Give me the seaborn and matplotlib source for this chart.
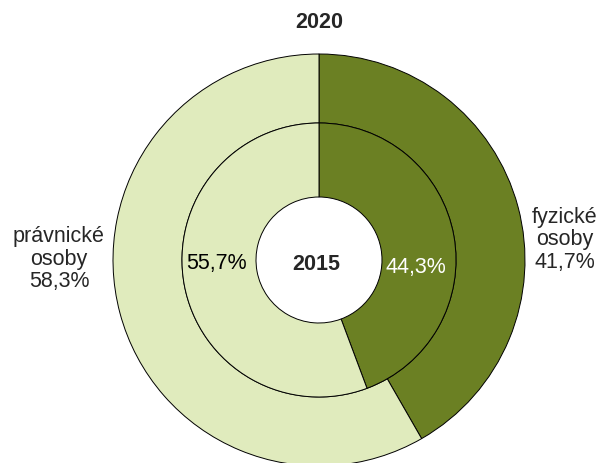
import matplotlib
matplotlib.use("Agg")
import matplotlib.pyplot as plt
import seaborn as sns

sns.set_theme(style="white")
plt.rcParams['font.family'] = ['Liberation Sans', 'DejaVu Sans']

categories = ["fyzické osoby", "právnické osoby"]
values_2020 = [41.7, 58.3]
values_2015 = [44.3, 55.7]
labels_2020 = ["41,7%", "58,3%"]
labels_2015 = ["44,3%", "55,7%"]
colors = ["#6B8023", "#E0EBBD"]

W, H = 605, 463
fig = plt.figure(figsize=(W / 100, H / 100), dpi=100)
ax = fig.add_axes([0, 0, 1, 1])
ax.set_xlim(0, W)
ax.set_ylim(0, H)
ax.set_aspect("equal")
ax.axis("off")

cx, cy = 319, H - 260
r_out, r_mid, r_in = 206, 137, 63

wp = dict(edgecolor="black", linewidth=0.7)
ax.pie(values_2020, colors=colors, startangle=90, counterclock=False,
       radius=r_out, center=(cx, cy), wedgeprops=dict(width=r_out - r_mid, **wp),
       frame=True)
ax.pie(values_2015, colors=colors, startangle=90, counterclock=False,
       radius=r_mid, center=(cx, cy), wedgeprops=dict(width=r_mid - r_in, **wp),
       frame=True)
ax.set_xlim(0, W)
ax.set_ylim(0, H)
ax.axis("off")

fs = 15.5
ax.text(cx, H - 23, "2020", ha="center", va="center", fontsize=fs, fontweight="bold")
ax.text(316, H - 265, "2015", ha="center", va="center", fontsize=fs, fontweight="bold")
ax.text(216, H - 264, labels_2015[1], ha="center", va="center", fontsize=fs, color="black")
ax.text(416, H - 268, labels_2015[0], ha="center", va="center", fontsize=fs, color="white")
ax.text(59, H - 259, "právnické\nosoby\n" + labels_2020[1], ha="center", va="center",
        fontsize=fs, linespacing=1.1)
ax.text(565, H - 240, "fyzické\nosoby\n" + labels_2020[0], ha="center", va="center",
        fontsize=fs, linespacing=1.1)

fig.savefig("out.png", dpi=100, facecolor="white")
